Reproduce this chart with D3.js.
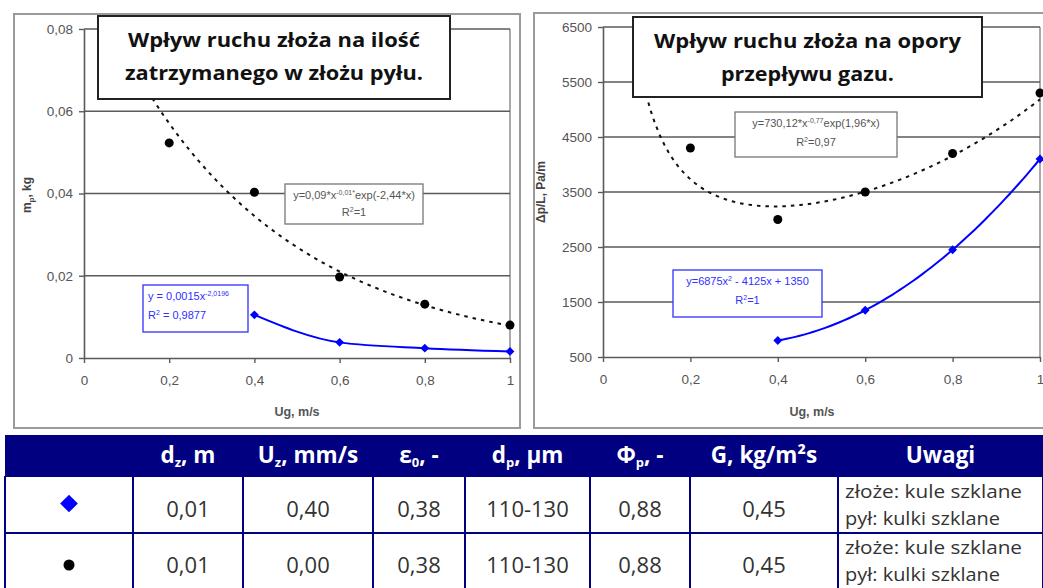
<!DOCTYPE html>
<html>
<head>
<meta charset="utf-8">
<script src="https://cdn.jsdelivr.net/npm/d3@7"></script>
<style>
  body { margin: 0; background: #fff; }
  svg { display: block; }
</style>
</head>
<body>
<div id="chart"></div>
<script>
// data
const ugFixed = [0.2, 0.4, 0.6, 0.8, 1.0];
const ugMoving = [0.4, 0.6, 0.8, 1.0];
const dustFixed = [0.0523, 0.0403, 0.0197, 0.0131, 0.0080];
const dustMoving = [0.0105, 0.0038, 0.0024, 0.0016];
const pressFixed = [4300, 3000, 3500, 4200, 5300];
const pressMoving = [800, 1350, 2450, 4100];

// trendline coefficients as printed on the chart
const dustTrend = [0.09, -0.02, -2.44];       // a * x^b * exp(c*x)
const pressTrend = [730.12, -0.77, 1.96];     // a * x^b * exp(c*x)
const pressQuad = [6875, -4125, 1350];        // a*x^2 + b*x + c

const xTicks = [0, 0.2, 0.4, 0.6, 0.8, 1];
const dustTicks = [0, 0.02, 0.04, 0.06, 0.08];
const pressTicks = [500, 1500, 2500, 3500, 4500, 5500, 6500];

const tableHeaders = [["", ""], ["d", "z", ", m"], ["U", "z", ", mm/s"], ["ε", "0", ", -"], ["d", "p", ", µm"], ["Φ", "p", ", -"], ["G, kg/m²s", ""], ["Uwagi", ""]];
const tableRows = [
  ["0,01", "0,40", "0,38", "110-130", "0,88", "0,45"],
  ["0,01", "0,00", "0,38", "110-130", "0,88", "0,45"]
];
const remarks = ["złoże: kule szklane", "pył: kulki szklane"];

const W = 1043, H = 588;
const tickFont = "'Liberation Sans Narrow', 'Arial Narrow', 'Liberation Sans', sans-serif";
const titleFont = "'Open Sans', 'Noto Sans', sans-serif";
const comma = d => String(d).replace(".", ",");

let svg = d3.select("#chart").append("svg")
    .attr("width", W).attr("height", H);

// chart frames
svg.append("rect").attr("x", 14).attr("y", 14).attr("width", 506).attr("height", 414)
    .attr("fill", "none").attr("stroke", "#9a9a9a").attr("stroke-width", 2);
svg.append("rect").attr("x", 534).attr("y", 13).attr("width", 520).attr("height", 415)
    .attr("fill", "none").attr("stroke", "#9a9a9a").attr("stroke-width", 2);

function trendPow(c, x) { return c[0] * Math.pow(x, c[1]) * Math.exp(c[2] * x); }
function trendQuad(c, x) { return c[0] * x * x + c[1] * x + c[2]; }

function drawPanel(g, x, y, yTicks, yFmt, yTitle) {
    let x0 = x.range()[0], x1 = x.range()[1];
    let y0 = y.range()[0], y1 = y.range()[1];

    // plot area border (right side)
    g.append("line").attr("x1", x1).attr("x2", x1).attr("y1", y1).attr("y2", y0)
        .attr("stroke", "#aaa").attr("stroke-width", 2);

    g.append("g").selectAll("line").data(yTicks.slice(1)).enter().append("line")
        .attr("x1", x0).attr("x2", x1)
        .attr("y1", d => y(d)).attr("y2", d => y(d))
        .attr("stroke", "#5a5a5a").attr("stroke-width", 1.4);

    let ya = g.append("g").attr("transform", `translate(${x0},0)`)
        .call(d3.axisLeft(y).tickValues(yTicks).tickFormat(yFmt).tickSize(5).tickSizeOuter(0).tickPadding(6));
    let xa = g.append("g").attr("transform", `translate(0,${y0})`)
        .call(d3.axisBottom(x).tickValues(xTicks).tickFormat(comma).tickSize(5).tickSizeOuter(0).tickPadding(12));
    [ya, xa].forEach(a => {
        a.select(".domain").attr("stroke", "#5a5a5a").attr("stroke-width", 1.6);
        a.selectAll(".tick line").attr("stroke", "#5a5a5a").attr("stroke-width", 1.4);
        a.selectAll("text").attr("fill", "#555").style("font-family", tickFont).style("font-size", "13.5px");
    });

    g.append("text")
        .attr("transform", `translate(${yTitle.x},${yTitle.y}) rotate(-90)`)
        .attr("text-anchor", "middle")
        .style("font-family", tickFont).style("font-size", "12px").style("font-weight", "bold")
        .attr("fill", "#444")
        .html(yTitle.html);
}

function titleBox(g, x, y, w, h, lines, lens) {
    g.append("rect").attr("x", x).attr("y", y).attr("width", w).attr("height", h)
        .attr("fill", "#fff").attr("stroke", "#222").attr("stroke-width", 2);
    lines.forEach((t, i) => {
        g.append("text").attr("x", x + w / 2).attr("y", y + 31 + i * 33)
            .attr("text-anchor", "middle")
            .attr("textLength", lens[i]).attr("lengthAdjust", "spacingAndGlyphs")
            .style("font-family", titleFont).style("font-size", "19px").style("font-weight", "bold")
            .attr("fill", "#111").text(t);
    });
}

function eqBox(g, x, y, w, h, color, border, lines, anchor) {
    g.append("rect").attr("x", x).attr("y", y).attr("width", w).attr("height", h)
        .attr("fill", "#fff").attr("stroke", border).attr("stroke-width", 1.3);
    lines.forEach((l, i) => {
        let t = g.append("text")
            .attr("x", anchor === "middle" ? x + w / 2 : x + 5)
            .attr("y", y + 15 + i * (h > 44 ? 19 : 17))
            .attr("text-anchor", anchor)
            .style("font-family", tickFont).style("font-size", "11px")
            .attr("fill", color);
        l.forEach(part => {
            let s = t.append("tspan").text(part[0]);
            if (part[1]) s.attr("dy", -4).style("font-size", "7px");
            if (part[2]) s.attr("dy", 4);
        });
    });
}

// ---------- left chart ----------
let xL = d3.scaleLinear().domain([0, 1]).range([84, 510]);
let yL = d3.scaleLinear().domain([0, 0.08]).range([358, 29]);
let gL = svg.append("g");
drawPanel(gL, xL, yL, dustTicks, d => d === 0 ? "0" : comma(d.toFixed(2)),
    {x: 31, y: 195, html: 'm<tspan font-size="8px" dy="3">p</tspan><tspan dy="-3">, kg</tspan>'});

let dustTrendPts = d3.range(0.1, 1.0001, 0.01).map(v => [v, trendPow(dustTrend, v)]);
gL.append("path").datum(dustTrendPts)
    .attr("d", d3.line().x(d => xL(d[0])).y(d => yL(d[1])))
    .attr("fill", "none").attr("stroke", "#111").attr("stroke-width", 2).attr("stroke-dasharray", "3.5,5");

gL.append("path").datum(ugMoving.map((v, i) => [v, dustMoving[i]]))
    .attr("d", d3.line().curve(d3.curveMonotoneX).x(d => xL(d[0])).y(d => yL(d[1])))
    .attr("fill", "none").attr("stroke", "#0000ff").attr("stroke-width", 2);

gL.selectAll(".dotL").data(ugFixed).enter().append("circle")
    .attr("cx", d => xL(d)).attr("cy", (d, i) => yL(dustFixed[i])).attr("r", 4.5).attr("fill", "#000");
gL.selectAll(".diaL").data(ugMoving).enter().append("path")
    .attr("d", d3.symbol(d3.symbolDiamond2, 50))
    .attr("transform", (d, i) => `translate(${xL(d)},${yL(dustMoving[i])})`).attr("fill", "#0000ff");

eqBox(gL, 285, 184, 138, 40, "#555", "#777",
    [[["y=0,09*x"], ["-0,01*", 1], ["exp(-2,44*x)", 0, 1]], [["R"], ["2", 1], ["=1", 0, 1]]], "middle");
eqBox(gL, 143, 285, 105, 47, "#3030ff", "#3030ff",
    [[["y = 0,0015x"], ["-2,0196", 1]], [["R"], ["2", 1], [" = 0,9877", 0, 1]]], "start");

titleBox(gL, 98, 16, 352, 83, ["Wpływ ruchu złoża na ilość", "zatrzymanego w złożu pyłu."], [292, 298]);

gL.append("text").attr("x", 297).attr("y", 416).attr("text-anchor", "middle")
    .style("font-family", tickFont).style("font-size", "12.5px").style("font-weight", "bold")
    .attr("fill", "#555").text("Ug, m/s");

// ---------- right chart ----------
let xR = d3.scaleLinear().domain([0, 1]).range([603, 1040]);
let yR = d3.scaleLinear().domain([500, 6500]).range([357, 27]);
let gR = svg.append("g");
drawPanel(gR, xR, yR, pressTicks, d => d, {x: 545, y: 192, html: "Δp/L, Pa/m"});

let pressTrendPts = d3.range(0.07, 1.0001, 0.01).map(v => [v, trendPow(pressTrend, v)]);
gR.append("path").datum(pressTrendPts)
    .attr("d", d3.line().x(d => xR(d[0])).y(d => yR(d[1])))
    .attr("fill", "none").attr("stroke", "#111").attr("stroke-width", 2).attr("stroke-dasharray", "3.5,5");

let quadPts = d3.range(0.4, 1.0001, 0.01).map(v => [v, trendQuad(pressQuad, v)]);
gR.append("path").datum(quadPts)
    .attr("d", d3.line().x(d => xR(d[0])).y(d => yR(d[1])))
    .attr("fill", "none").attr("stroke", "#0000ff").attr("stroke-width", 2);

gR.selectAll(".dotR").data(ugFixed).enter().append("circle")
    .attr("cx", d => xR(d)).attr("cy", (d, i) => yR(pressFixed[i])).attr("r", 4.5).attr("fill", "#000");
gR.selectAll(".diaR").data(ugMoving).enter().append("path")
    .attr("d", d3.symbol(d3.symbolDiamond2, 50))
    .attr("transform", (d, i) => `translate(${xR(d)},${yR(pressMoving[i])})`).attr("fill", "#0000ff");

eqBox(gR, 735, 112, 162, 45, "#555", "#777",
    [[["y=730,12*x"], ["-0,77", 1], ["exp(1,96*x)", 0, 1]], [["R"], ["2", 1], ["=0,97", 0, 1]]], "middle");
eqBox(gR, 673, 270, 149, 47, "#3030ff", "#3030ff",
    [[["y=6875x"], ["2", 1], [" - 4125x + 1350", 0, 1]], [["R"], ["2", 1], ["=1", 0, 1]]], "middle");

titleBox(gR, 633, 17, 349, 80, ["Wpływ ruchu złoża na opory", "przepływu gazu."], [307, 173]);

gR.append("text").attr("x", 812).attr("y", 416).attr("text-anchor", "middle")
    .style("font-family", tickFont).style("font-size", "12.5px").style("font-weight", "bold")
    .attr("fill", "#555").text("Ug, m/s");

// ---------- table ----------
const colEdges = [5, 133, 243, 373, 465, 590, 690, 838, 1043];
const rowEdges = [435, 476, 533, 590];
const navy = "#000080";
let gT = svg.append("g");

gT.append("rect").attr("x", colEdges[0]).attr("y", rowEdges[0])
    .attr("width", colEdges[8] - colEdges[0] + 5).attr("height", rowEdges[1] - rowEdges[0]).attr("fill", navy);

gT.selectAll(".vline").data(colEdges).enter().append("line")
    .attr("x1", d => d).attr("x2", d => d).attr("y1", rowEdges[1]).attr("y2", rowEdges[3])
    .attr("stroke", navy).attr("stroke-width", 2);
gT.selectAll(".hline").data(rowEdges.slice(1)).enter().append("line")
    .attr("x1", colEdges[0]).attr("x2", W).attr("y1", d => d).attr("y2", d => d)
    .attr("stroke", navy).attr("stroke-width", 2);

tableHeaders.forEach((h, i) => {
    if (!h[0]) return;
    let cx = (colEdges[i] + colEdges[i + 1]) / 2;
    let t = gT.append("text").attr("x", cx).attr("y", 463).attr("text-anchor", "middle")
        .style("font-family", titleFont).style("font-size", "22.5px").style("font-weight", "bold")
        .attr("fill", "#fff");
    t.append("tspan").text(h[0]);
    if (h[1]) {
        t.append("tspan").attr("dy", 4).style("font-size", "13px").text(h[1]);
        t.append("tspan").attr("dy", -4).text(h[2]);
    }
});

const rowBase = [517, 573];
tableRows.forEach((r, ri) => {
    r.forEach((v, ci) => {
        let cx = (colEdges[ci + 1] + colEdges[ci + 2]) / 2;
        gT.append("text").attr("x", cx).attr("y", rowBase[ri]).attr("text-anchor", "middle")
            .style("font-family", titleFont).style("font-size", "22px")
            .attr("fill", "#333").text(v);
    });
    remarks.forEach((t, li) => {
        gT.append("text").attr("x", 845).attr("y", rowBase[ri] - 19 + li * 27)
            .attr("textLength", li === 0 ? 177 : 155).attr("lengthAdjust", "spacingAndGlyphs")
            .style("font-family", titleFont).style("font-size", "18.5px")
            .attr("fill", "#333").text(t);
    });
});

let midX = (colEdges[0] + colEdges[1]) / 2;
gT.append("path").attr("d", d3.symbol(d3.symbolDiamond2, 200))
    .attr("transform", `translate(${midX},${(rowEdges[1] + rowEdges[2]) / 2 - 1})`).attr("fill", "#0000ff");
gT.append("circle").attr("cx", midX).attr("cy", 565).attr("r", 5.5).attr("fill", "#000");
</script>
</body>
</html>
